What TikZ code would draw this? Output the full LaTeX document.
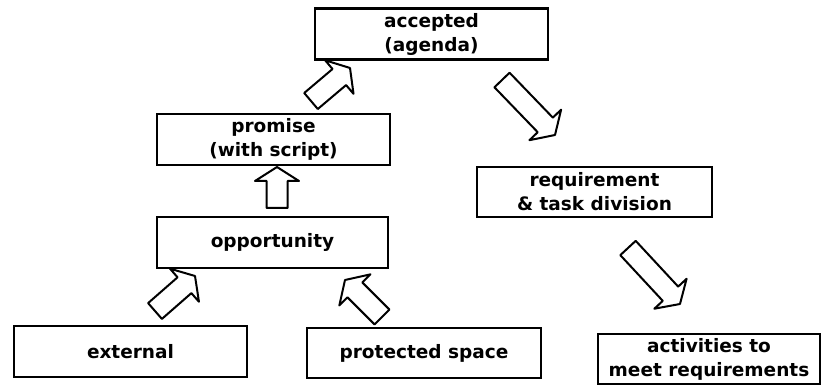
\documentclass[tikz,border=0pt]{standalone}
\usepackage{fontspec}
\setmainfont{DejaVu Sans}
\usetikzlibrary{calc}
\tikzset{
  box/.style={draw, line width=2.2pt, minimum width=233pt, minimum height=51pt,
    align=center, inner sep=2pt, font=\fontsize{18.5}{24}\selectfont\bfseries},
  blockarrow/.style={draw, line width=2pt, line join=round, fill=white}
}
\newcommand\blockarrow[2]{%
  \coordinate (#2-h) at ($(#2)!14pt!(#1)$);
  \draw[blockarrow] ($(#1)!10.5pt!90:(#2)$) -- ($(#2-h)!10.5pt!90:(#2)$) --
    ($(#2-h)!22pt!90:(#2)$) -- (#2) -- ($(#2-h)!22pt!-90:(#2)$) --
    ($(#2-h)!10.5pt!-90:(#2)$) -- ($(#1)!10.5pt!-90:(#2)$) -- cycle;}
\begin{document}
\begin{tikzpicture}[x=1pt,y=-1pt]
\useasboundingbox (0,0) rectangle (823,385);
\node[box] (acc) at (431.5,34) {accepted\\(agenda)};
\node[box] (prom) at (273.5,139.5) {promise\\(with script)};
\node[box, minimum width=231pt] (opp) at (272.5,242.5) {opportunity};
\node[box] (ext) at (130.5,351.5) {external};
\node[box, minimum width=234pt, minimum height=50pt] (prot) at (424,353) {protected space};
\node[box, minimum width=235pt, minimum height=50pt] (req) at (594.5,192) {requirement\\\& task division};
\node[box, minimum width=222pt, minimum height=50pt] (act) at (709,359) {activities to\\meet requirements};
% arrow end points
\coordinate (a1s) at (311,101); \coordinate (a1e) at (350,68);
\coordinate (a2s) at (502,80);  \coordinate (a2e) at (555,135);
\coordinate (a3s) at (277,208); \coordinate (a3e) at (277,167);
\coordinate (a4s) at (155,311); \coordinate (a4e) at (195,276);
\coordinate (a5s) at (382,317); \coordinate (a5e) at (345,280);
\coordinate (a6s) at (628,248); \coordinate (a6e) at (680,304);
\blockarrow{a1s}{a1e}
\blockarrow{a2s}{a2e}
\blockarrow{a3s}{a3e}
\blockarrow{a4s}{a4e}
\blockarrow{a5s}{a5e}
\blockarrow{a6s}{a6e}
\end{tikzpicture}
\end{document}
